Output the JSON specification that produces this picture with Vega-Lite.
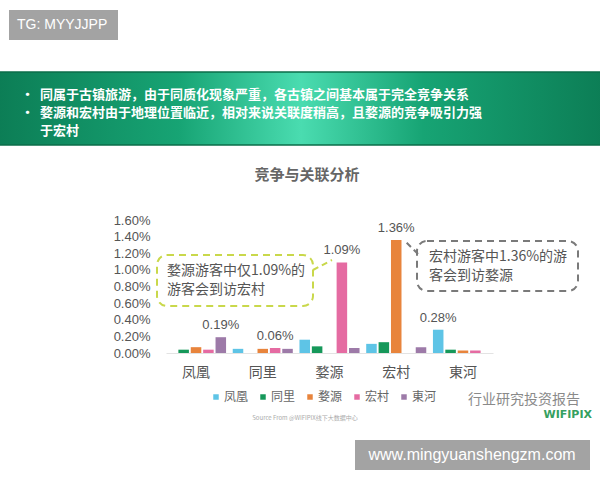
{
  "$schema": "https://vega.github.io/schema/vega-lite/v6.json",
  "width": 327,
  "height": 133,
  "autosize": {"type": "none"},
  "padding": {"left": 166, "top": 220, "right": 107, "bottom": 127},
  "background": "white",
  "config": {
    "font": "Noto Sans CJK SC",
    "view": {"stroke": null},
    "axisY": {"labelOverlap": false, "labelFont": "Liberation Sans", "labelFontSize": 13, "labelColor": "#555555", "labelPadding": 16, "ticks": false, "domain": false, "grid": false}
  },
  "datasets": {
    "shares": [
      {"group": "凤凰", "series": "凤凰", "value": 0},
      {"group": "凤凰", "series": "同里", "value": 0.0004},
      {"group": "凤凰", "series": "婺源", "value": 0.0007},
      {"group": "凤凰", "series": "宏村", "value": 0.0004},
      {"group": "凤凰", "series": "東河", "value": 0.0019},
      {"group": "同里", "series": "凤凰", "value": 0.0005},
      {"group": "同里", "series": "同里", "value": 0},
      {"group": "同里", "series": "婺源", "value": 0.0005},
      {"group": "同里", "series": "宏村", "value": 0.0006},
      {"group": "同里", "series": "東河", "value": 0.0005},
      {"group": "婺源", "series": "凤凰", "value": 0.0016},
      {"group": "婺源", "series": "同里", "value": 0.0008},
      {"group": "婺源", "series": "婺源", "value": 0},
      {"group": "婺源", "series": "宏村", "value": 0.0109},
      {"group": "婺源", "series": "東河", "value": 0.0006},
      {"group": "宏村", "series": "凤凰", "value": 0.0011},
      {"group": "宏村", "series": "同里", "value": 0.0013},
      {"group": "宏村", "series": "婺源", "value": 0.0136},
      {"group": "宏村", "series": "宏村", "value": 0},
      {"group": "宏村", "series": "東河", "value": 0.0007},
      {"group": "東河", "series": "凤凰", "value": 0.0028},
      {"group": "東河", "series": "同里", "value": 0.0004},
      {"group": "東河", "series": "婺源", "value": 0.0003},
      {"group": "東河", "series": "宏村", "value": 0.0003},
      {"group": "東河", "series": "東河", "value": 0}
    ]
  },
  "layer": [
    {
      "data": {"values": [{}]},
      "mark": {
        "type": "rect",
        "stroke": "#0b6e4a",
        "strokeWidth": 1.5,
        "color": {
          "gradient": "linear", "x1": 0, "x2": 1, "y1": 0, "y2": 0,
          "stops": [
            {"offset": 0, "color": "#0c7d55"},
            {"offset": 0.3, "color": "#17a474"},
            {"offset": 0.5, "color": "#4adcb0"},
            {"offset": 0.7, "color": "#17a474"},
            {"offset": 1, "color": "#0c7d55"}
          ]
        }
      },
      "encoding": {
        "x": {"value": -170}, "x2": {"value": 440},
        "y": {"value": -148}, "y2": {"value": -75}
      }
    },
    {
      "data": {"values": [{}]},
      "mark": {
        "type": "text", "align": "left", "baseline": "middle",
        "fontSize": 13, "fontWeight": "bold", "color": "white",
        "text": "同属于古镇旅游，由于同质化现象严重，各古镇之间基本属于完全竞争关系"
      },
      "encoding": {"x": {"value": -126}, "y": {"value": -125}}
    },
    {
      "data": {"values": [{}]},
      "mark": {
        "type": "text", "align": "left", "baseline": "middle",
        "fontSize": 13, "fontWeight": "bold", "color": "white",
        "text": "婺源和宏村由于地理位置临近，相对来说关联度稍高，且婺源的竞争吸引力强"
      },
      "encoding": {"x": {"value": -126}, "y": {"value": -107}}
    },
    {
      "data": {"values": [{}]},
      "mark": {
        "type": "text", "align": "left", "baseline": "middle",
        "fontSize": 13, "fontWeight": "bold", "color": "white",
        "text": "于宏村"
      },
      "encoding": {"x": {"value": -126}, "y": {"value": -89}}
    },
    {
      "data": {"values": [{}]},
      "mark": {
        "type": "text", "align": "left", "baseline": "middle",
        "fontSize": 13, "fontWeight": "bold", "color": "white", "text": "•"
      },
      "encoding": {"x": {"value": -145}, "y": {"value": -125}}
    },
    {
      "data": {"values": [{}]},
      "mark": {
        "type": "text", "align": "left", "baseline": "middle",
        "fontSize": 13, "fontWeight": "bold", "color": "white", "text": "•"
      },
      "encoding": {"x": {"value": -145}, "y": {"value": -107}}
    },
    {
      "data": {"values": [{}]},
      "mark": {"type": "rect", "color": "#a3a3a3"},
      "encoding": {
        "x": {"value": -157}, "x2": {"value": -48},
        "y": {"value": -210}, "y2": {"value": -180}
      }
    },
    {
      "data": {"values": [{}]},
      "mark": {
        "type": "text", "align": "left", "baseline": "middle",
        "font": "Liberation Sans", "fontSize": 14, "color": "white",
        "text": "TG: MYYJJPP"
      },
      "encoding": {"x": {"value": -149}, "y": {"value": -195}}
    },
    {
      "data": {"values": [{}]},
      "mark": {
        "type": "text", "align": "center", "baseline": "middle",
        "fontSize": 15, "fontWeight": "bold", "color": "#666666",
        "text": "竞争与关联分析"
      },
      "encoding": {"x": {"value": 141}, "y": {"value": -45}}
    },
    {
      "data": {"name": "shares"},
      "mark": {"type": "bar"},
      "encoding": {
        "x": {
          "field": "group", "type": "nominal",
          "sort": ["凤凰", "同里", "婺源", "宏村", "東河"],
          "scale": {"paddingInner": 0.1, "paddingOuter": 0},
          "axis": {
            "title": null, "labelAngle": 0, "ticks": false,
            "domainColor": "#e3e3e3", "labelFontSize": 14,
            "labelColor": "#555555", "labelPadding": 12
          }
        },
        "xOffset": {
          "field": "series", "type": "nominal",
          "sort": ["凤凰", "同里", "婺源", "宏村", "東河"],
          "scale": {"paddingInner": 0.15}
        },
        "y": {
          "field": "value", "type": "quantitative",
          "scale": {"domain": [0, 0.016]},
          "axis": {
            "title": null,
            "values": [0, 0.002, 0.004, 0.006, 0.008, 0.01, 0.012, 0.014, 0.016],
            "format": ".2%", "labelOverlap": false
          }
        },
        "color": {
          "field": "series", "type": "nominal",
          "scale": {
            "domain": ["凤凰", "同里", "婺源", "宏村", "東河"],
            "range": ["#5ec4e6", "#16985a", "#e8843c", "#e56ba2", "#9d7aa8"]
          },
          "legend": {
            "title": null, "orient": "none", "legendX": 44, "legendY": 171,
            "direction": "horizontal", "symbolType": "square", "symbolSize": 30,
            "labelFontSize": 12, "labelColor": "#666666", "columnPadding": 8,
            "labelOffset": 2, "symbolStrokeWidth": 0
          }
        }
      }
    },
    {
      "data": {"name": "shares"},
      "transform": [
        {"joinaggregate": [{"op": "max", "field": "value", "as": "groupMax"}], "groupby": ["group"]},
        {"filter": "datum.value === datum.groupMax"}
      ],
      "mark": {
        "type": "text", "baseline": "bottom", "dy": -5,
        "fontSize": 13, "color": "#555555", "font": "Liberation Sans"
      },
      "encoding": {
        "x": {"field": "group", "type": "nominal", "sort": ["凤凰", "同里", "婺源", "宏村", "東河"]},
        "xOffset": {"field": "series", "type": "nominal", "sort": ["凤凰", "同里", "婺源", "宏村", "東河"]},
        "y": {
          "field": "value", "type": "quantitative",
          "axis": {
            "title": null,
            "values": [0, 0.002, 0.004, 0.006, 0.008, 0.01, 0.012, 0.014, 0.016],
            "format": ".2%", "labelOverlap": false
          }
        },
        "text": {"field": "value", "type": "quantitative", "format": ".2%"}
      }
    },
    {
      "data": {"values": [{}]},
      "mark": {
        "type": "rect", "fill": null, "fillOpacity": 0, "stroke": "#c9d84b",
        "strokeWidth": 2, "strokeDash": [7, 5], "cornerRadius": 10
      },
      "encoding": {
        "x": {"value": -9}, "x2": {"value": 147},
        "y": {"value": 35}, "y2": {"value": 86}
      }
    },
    {
      "data": {"values": [{}]},
      "mark": {"type": "rule", "stroke": "#c9d84b", "strokeWidth": 2, "strokeDash": [6, 4]},
      "encoding": {
        "x": {"value": 147}, "x2": {"value": 166},
        "y": {"value": 50}, "y2": {"value": 40}
      }
    },
    {
      "data": {"values": [{}]},
      "mark": {
        "type": "text", "align": "left", "baseline": "middle",
        "fontSize": 14, "color": "#555555", "text": "婺源游客中仅1.09%的"
      },
      "encoding": {"x": {"value": 1}, "y": {"value": 51}}
    },
    {
      "data": {"values": [{}]},
      "mark": {
        "type": "text", "align": "left", "baseline": "middle",
        "fontSize": 14, "color": "#555555", "text": "游客会到访宏村"
      },
      "encoding": {"x": {"value": 1}, "y": {"value": 70}}
    },
    {
      "data": {"values": [{}]},
      "mark": {
        "type": "rect", "fill": null, "fillOpacity": 0, "stroke": "#7a7a7a",
        "strokeWidth": 2, "strokeDash": [7, 5], "cornerRadius": 10
      },
      "encoding": {
        "x": {"value": 251}, "x2": {"value": 412},
        "y": {"value": 21}, "y2": {"value": 71}
      }
    },
    {
      "data": {"values": [{}]},
      "mark": {"type": "rule", "stroke": "#7a7a7a", "strokeWidth": 2, "strokeDash": [6, 4]},
      "encoding": {
        "x": {"value": 252}, "x2": {"value": 240},
        "y": {"value": 34}, "y2": {"value": 22}
      }
    },
    {
      "data": {"values": [{}]},
      "mark": {
        "type": "text", "align": "left", "baseline": "middle",
        "fontSize": 14, "color": "#555555", "text": "宏村游客中1.36%的游"
      },
      "encoding": {"x": {"value": 263}, "y": {"value": 37}}
    },
    {
      "data": {"values": [{}]},
      "mark": {
        "type": "text", "align": "left", "baseline": "middle",
        "fontSize": 14, "color": "#555555", "text": "客会到访婺源"
      },
      "encoding": {"x": {"value": 263}, "y": {"value": 56}}
    },
    {
      "data": {"values": [{}]},
      "mark": {
        "type": "text", "align": "center", "baseline": "middle",
        "fontSize": 6, "color": "#aaaaaa",
        "text": "Source From @WIFIPIX线下大数据中心"
      },
      "encoding": {"x": {"value": 139}, "y": {"value": 198}}
    },
    {
      "data": {"values": [{}]},
      "mark": {
        "type": "text", "align": "left", "baseline": "middle",
        "fontSize": 14, "color": "#8a8a8a",
        "text": "行业研究投资报告"
      },
      "encoding": {"x": {"value": 302}, "y": {"value": 180}}
    },
    {
      "data": {"values": [{}]},
      "mark": {
        "type": "text", "align": "right", "baseline": "middle",
        "font": "DejaVu Sans", "fontSize": 11, "fontWeight": "bold", "color": "#35a060",
        "text": "WIFIPIX"
      },
      "encoding": {"x": {"value": 426}, "y": {"value": 195}}
    },
    {
      "data": {"values": [{}]},
      "mark": {"type": "rect", "color": "#a3a3a3"},
      "encoding": {
        "x": {"value": 189}, "x2": {"value": 424},
        "y": {"value": 220}, "y2": {"value": 250}
      }
    },
    {
      "data": {"values": [{}]},
      "mark": {
        "type": "text", "align": "center", "baseline": "middle",
        "font": "Liberation Sans", "fontSize": 16, "color": "white",
        "text": "www.mingyuanshengzm.com"
      },
      "encoding": {"x": {"value": 306}, "y": {"value": 235}}
    }
  ]
}
